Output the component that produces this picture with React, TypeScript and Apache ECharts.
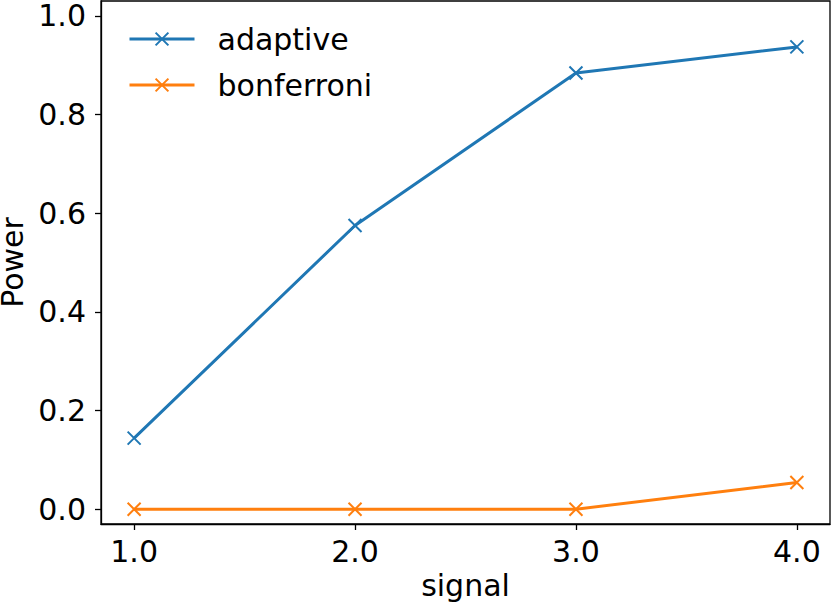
import React, { useEffect, useRef } from "react";
import * as echarts from "echarts";

const signal = [1.0, 2.0, 3.0, 4.0];
const adaptive = [0.144, 0.575, 0.884, 0.937];
const bonferroni = [0.0, 0.0, 0.0, 0.054];
const xTicks = [1.0, 2.0, 3.0, 4.0];
const yTicks = [0.0, 0.2, 0.4, 0.6, 0.8, 1.0];

const FONT = "DejaVu Sans";
const FS = 30;
const XMARK = "path://M0,0L10,10M10,0L0,10";

export default function App() {
  const ref = useRef<HTMLDivElement>(null);
  useEffect(() => {
    const chart = echarts.init(ref.current!, null, { renderer: "svg" });
    const mk = (name: string, vals: number[], color: string) => ({
      name,
      type: "line",
      data: signal.map((s, i) => [s, vals[i]]),
      symbol: XMARK,
      symbolSize: 13,
      showSymbol: true,
      lineStyle: { color, width: 3 },
      itemStyle: { color: "none", borderColor: color, borderWidth: 2 },
      emphasis: { disabled: true },
    });
    chart.setOption({
      animation: false,
      textStyle: { fontFamily: FONT },
      grid: {
        left: 101,
        top: 1,
        right: 1,
        bottom: 82,
        outerBoundsMode: "none",
        containLabel: false,
        show: true,
        borderColor: "#000",
        borderWidth: 1.3,
        backgroundColor: "transparent",
      },
      legend: {
        orient: "vertical",
        left: 123,
        top: 19,
        itemWidth: 65,
        itemHeight: 16,
        itemGap: 16,
        lineStyle: { width: 3 },
        textStyle: { fontSize: FS, color: "#000", fontFamily: FONT, padding: [0, 0, 0, 18] },
        data: ["adaptive", "bonferroni"],
      },
      xAxis: {
        type: "value",
        min: 0.85,
        max: 4.15,
        name: "signal",
        nameLocation: "middle",
        nameGap: 45,
        nameTextStyle: { fontSize: FS, color: "#000", fontFamily: FONT },
        axisLine: { show: true, onZero: false, lineStyle: { color: "#000", width: 1.3 } },
        axisTick: { show: true, customValues: xTicks, length: 6, lineStyle: { color: "#000", width: 1.3 } },
        axisLabel: {
          customValues: xTicks,
          fontSize: FS,
          color: "#000",
          margin: 12,
          fontFamily: FONT,
          formatter: (v: number) => v.toFixed(1),
        },
        splitLine: { show: false },
      },
      yAxis: {
        type: "value",
        min: -0.03,
        max: 1.03,
        name: "Power",
        nameLocation: "middle",
        nameGap: 69,
        nameTextStyle: { fontSize: FS, color: "#000", fontFamily: FONT },
        axisLine: { show: true, onZero: false, lineStyle: { color: "#000", width: 1.3 } },
        axisTick: { show: true, customValues: yTicks, length: 6, lineStyle: { color: "#000", width: 1.3 } },
        axisLabel: {
          customValues: yTicks,
          fontSize: FS,
          lineHeight: 26,
          color: "#000",
          margin: 15,
          fontFamily: FONT,
          formatter: (v: number) => v.toFixed(1),
        },
        splitLine: { show: false },
      },
      series: [mk("adaptive", adaptive, "#1f77b4"), mk("bonferroni", bonferroni, "#ff7f0e")],
    });
    return () => chart.dispose();
  }, []);
  return <div ref={ref} style={{ width: 831, height: 606, position: "absolute", left: 0, top: 0 }} />;
}
